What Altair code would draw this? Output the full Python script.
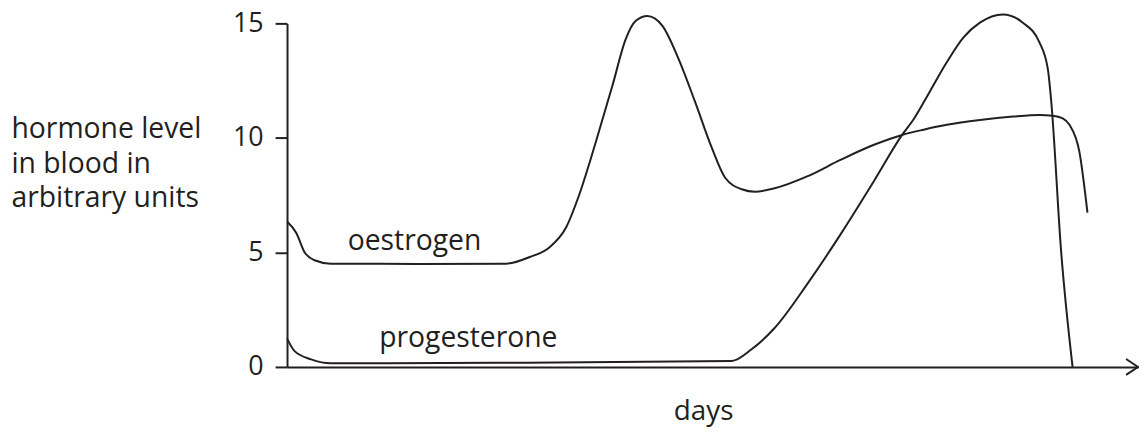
import altair as alt
import pandas as pd

# ---- data ----
oestrogen_days = [0, 0.33, 0.63, 0.98, 1.56, 4.63, 7.81, 8.64, 9.35, 9.94, 10.41, 11.00, 11.59,
                  12.06, 12.41, 12.83, 13.36, 13.94, 14.53, 15.13, 15.60, 16.19, 16.66, 17.36,
                  18.54, 19.72, 20.90, 21.90, 22.67, 23.49, 24.67, 25.85, 26.79, 27.26, 27.62,
                  27.86, 28.21, 28.50]
oestrogen_level = [6.35, 5.85, 5.0, 4.66, 4.51, 4.50, 4.51, 4.80, 5.23, 6.10, 7.54, 9.84, 12.3,
                   14.31, 15.1, 15.32, 14.9, 13.45, 11.57, 9.55, 8.26, 7.76, 7.65, 7.80,
                   8.33, 9.05, 9.70, 10.13, 10.36, 10.57, 10.78, 10.93, 11.0, 10.97, 10.85,
                   10.57, 9.41, 6.74]

progesterone_days = [0, 0.27, 0.86, 1.56, 7.46, 15.83, 16.54, 17.36, 18.54, 19.72, 20.90, 21.90,
                     22.33, 22.90, 23.49, 24.08, 24.67, 25.49, 26.20, 26.79, 27.09, 27.21, 27.56, 27.97]
progesterone_level = [1.25, 0.69, 0.33, 0.16, 0.18, 0.26, 0.77, 1.70, 3.65, 5.81, 8.12, 10.13,
                      10.85, 12.05, 13.3, 14.38, 15.03, 15.39, 15.03, 14.17, 13.0, 11.6, 5.09, 0.0]

label_names = ["oestrogen", "progesterone"]
label_days = [2.16, 3.28]
label_levels = [5.09, 0.89]

y_ticks = [0, 5, 10, 15]
y_title = ["hormone level", "in blood in", "arbitrary units"]
x_title = "days"
x_max = 30.3
y_max = 15

INK = "#231f20"
FONT = "Open Sans"
LW = 2.0

lines_df = pd.concat([
    pd.DataFrame({"day": oestrogen_days, "level": oestrogen_level, "hormone": "oestrogen"}),
    pd.DataFrame({"day": progesterone_days, "level": progesterone_level, "hormone": "progesterone"}),
])
labels_df = pd.DataFrame({"label": label_names, "day": label_days, "level": label_levels})
arrow_df = pd.DataFrame({"day": [x_max], "level": [0]})

x_scale = alt.Scale(domain=[0, x_max], nice=False, zero=False)
y_scale = alt.Scale(domain=[0, y_max], nice=False)

x_axis = alt.Axis(
    title=x_title, domain=True, domainColor=INK, domainWidth=LW,
    ticks=False, labels=False, grid=False,
    titleFont=FONT, titleFontSize=28, titleFontWeight="normal", titleColor=INK,
    titleX=419, titleY=53, titleAlign="center", titleBaseline="alphabetic",
)
y_axis = alt.Axis(
    values=y_ticks, title=y_title, titleAngle=0, titleAlign="left",
    titleBaseline="alphabetic", titleX=-278, titleY=114.7, titleLineHeight=35,
    titleFont=FONT, titleFontSize=28.5, titleFontWeight="normal", titleColor=INK,
    labelFont=FONT, labelFontSize=27, labelColor=INK, labelPadding=12, labelFlush=False,
    tickSize=12, tickColor=INK, tickWidth=LW,
    domainColor=INK, domainWidth=LW, grid=False,
)

lines = alt.Chart(lines_df).mark_line(
    interpolate="monotone", color=INK, strokeWidth=LW
).encode(
    x=alt.X("day:Q", scale=x_scale, axis=x_axis),
    y=alt.Y("level:Q", scale=y_scale, axis=y_axis),
    detail="hormone:N",
)

labels = alt.Chart(labels_df).mark_text(
    align="left", baseline="alphabetic", font=FONT, fontSize=28.5, color=INK
).encode(
    x=alt.X("day:Q", scale=x_scale),
    y=alt.Y("level:Q", scale=y_scale),
    text="label:N",
)

arrow = alt.Chart(arrow_df).mark_point(
    shape="M-1.5,-1L0,0L-1.5,1", filled=False, size=256,
    strokeWidth=LW, color=INK, opacity=1
).encode(
    x=alt.X("day:Q", scale=x_scale),
    y=alt.Y("level:Q", scale=y_scale),
)

chart = alt.layer(lines, labels, arrow).properties(
    width=857, height=346,
    autosize=alt.AutoSizeParams(type="none"),
    padding={"left": 281, "top": 14, "right": 1, "bottom": 62},
    background="white",
).configure_view(stroke=None)

chart.save("out.html", embed_options={"renderer": "svg", "actions": False})
